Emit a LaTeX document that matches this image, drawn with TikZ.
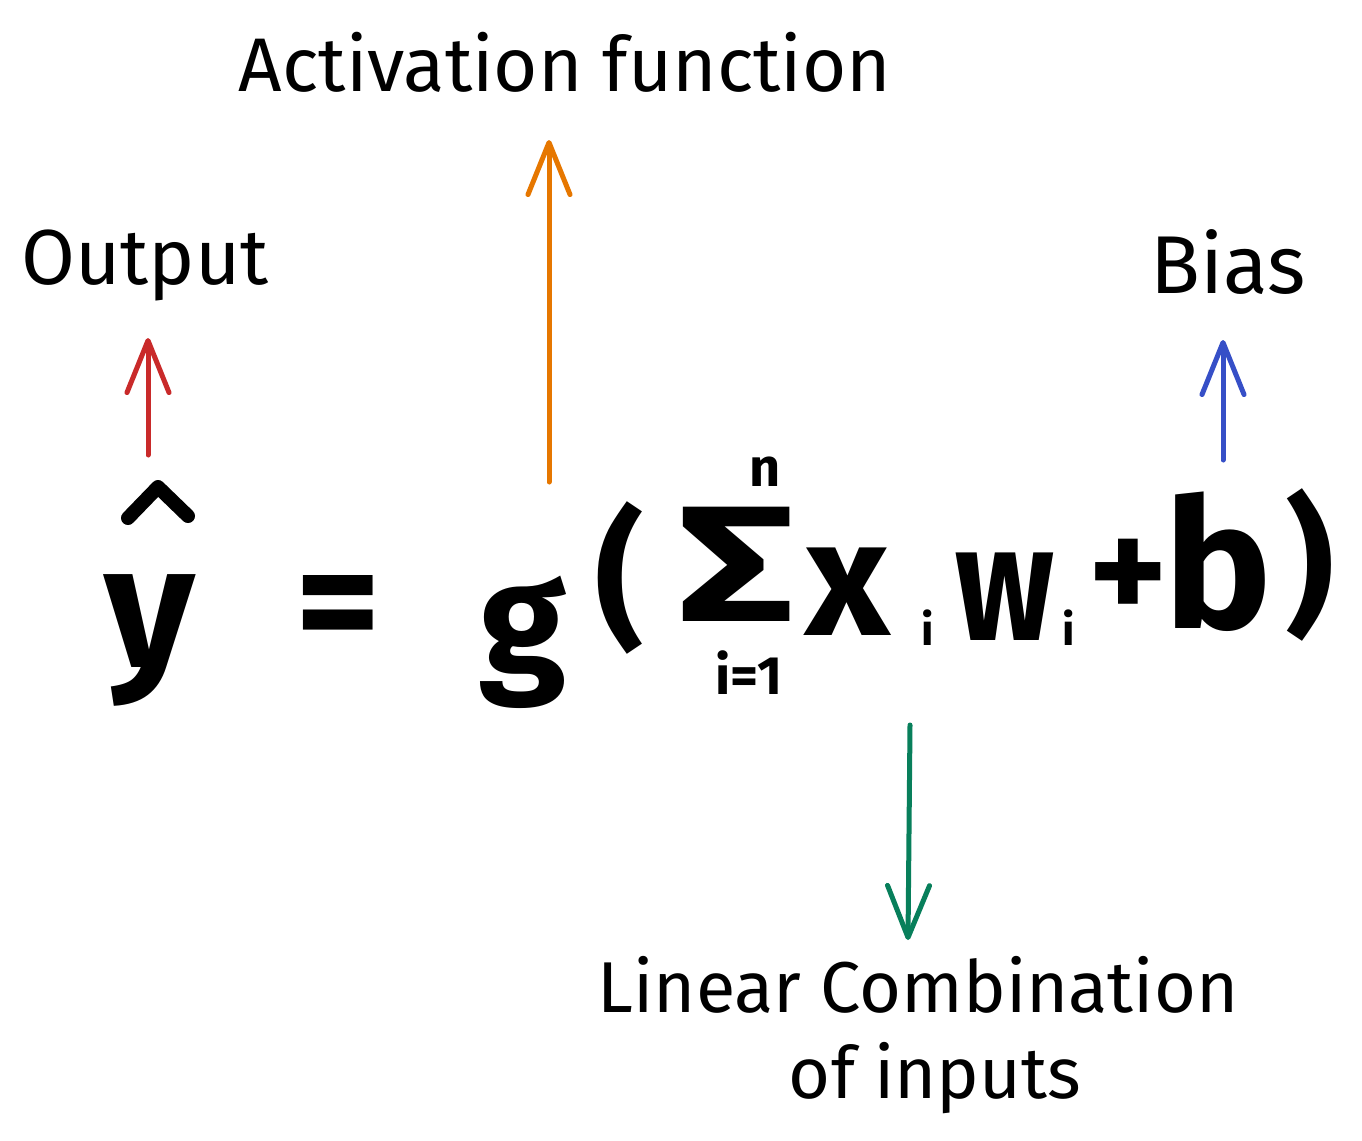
\documentclass[tikz,border=0pt]{standalone}
\usepackage{fontspec}
\setmainfont{Fira Sans}
\usetikzlibrary{arrows.meta}
\definecolor{cred}{HTML}{C92A2A}
\definecolor{corange}{HTML}{E67700}
\definecolor{cblue}{HTML}{364FC7}
\definecolor{cgreen}{HTML}{087F5B}
\begin{document}
\begin{tikzpicture}[x=1pt,y=-1pt,
  lbl/.style={inner sep=0pt},
  fml/.style={font=\fontsize{165}{170}\selectfont\bfseries, inner sep=0pt},
  sml/.style={font=\fontsize{54}{58}\selectfont\bfseries, inner sep=0pt},
  sub/.style={font=\fontsize{44}{48}\selectfont\bfseries, inner sep=0pt},
  arr/.style={line width=5pt, line cap=round, line join=round,
    -{Straight Barb[length=52pt,width=42pt,round]}}]
\useasboundingbox[fill=white] (0,0) rectangle (1362,1140);

% labels
\node[lbl, font=\fontsize{76}{80}\selectfont] (act) at (565,62) {Activation function};
\node[lbl, font=\fontsize{78}{80}\selectfont] (out) at (145,265) {Output};
\node[lbl, font=\fontsize{82}{84}\selectfont] (bias) at (1228,262) {Bias};
\node[lbl, font=\fontsize{72}{76}\selectfont] (lin1) at (918,985) {Linear Combination};
\node[lbl, font=\fontsize{72}{76}\selectfont] (lin2) at (935,1078) {of inputs};

% formula
\node[fml, font=\fontsize{175}{180}\selectfont\bfseries] (y) at (150,640) {y};
\draw[line width=14pt, line cap=round, line join=round] (128,518) -- (158,487) -- (188,516);
\node[fml] (eq) at (338,616) {=};
\node[fml, font=\fontsize{158}{160}\selectfont\bfseries] (g) at (523,642) {g};
\node[fml, font=\fontsize{150}{160}\selectfont\bfseries] (lp) at (620,578) {(};
\node[fml, font=\fontsize{165}{170}\selectfont\bfseries] (sig) at (737,564) {\scalebox{1.4}[1]{Σ}};
\node[sml] (n) at (765,472) {n};
\node[sml] (i1) at (749,673) {i=1};
\node[fml] (x) at (848,592) {x};
\node[sub] (xi) at (928,628) {i};
\node[fml] (w) at (1005,597) {\scalebox{0.8}[1]{w}};
\node[sub] (wi) at (1069,628) {i};
\node[fml, font=\fontsize{150}{160}\selectfont\bfseries] (plus) at (1128,580) {+};
\node[fml, font=\fontsize{180}{190}\selectfont\bfseries] (b) at (1218,562) {b};
\node[fml, font=\fontsize{150}{160}\selectfont\bfseries] (rp) at (1310,565) {)};

% arrow ends
\coordinate (r1) at (148,455); \coordinate (r2) at (148,338);
\coordinate (o1) at (549,482); \coordinate (o2) at (549,140);
\coordinate (b1) at (1223,460); \coordinate (b2) at (1223,340);
\coordinate (g1) at (910,725); \coordinate (g2) at (908,940);

\draw[arr, cred] (r1) -- (r2);
\draw[arr, corange] (o1) -- (o2);
\draw[arr, cblue] (b1) -- (b2);
\draw[arr, cgreen] (g1) -- (g2);
\end{tikzpicture}
\end{document}
